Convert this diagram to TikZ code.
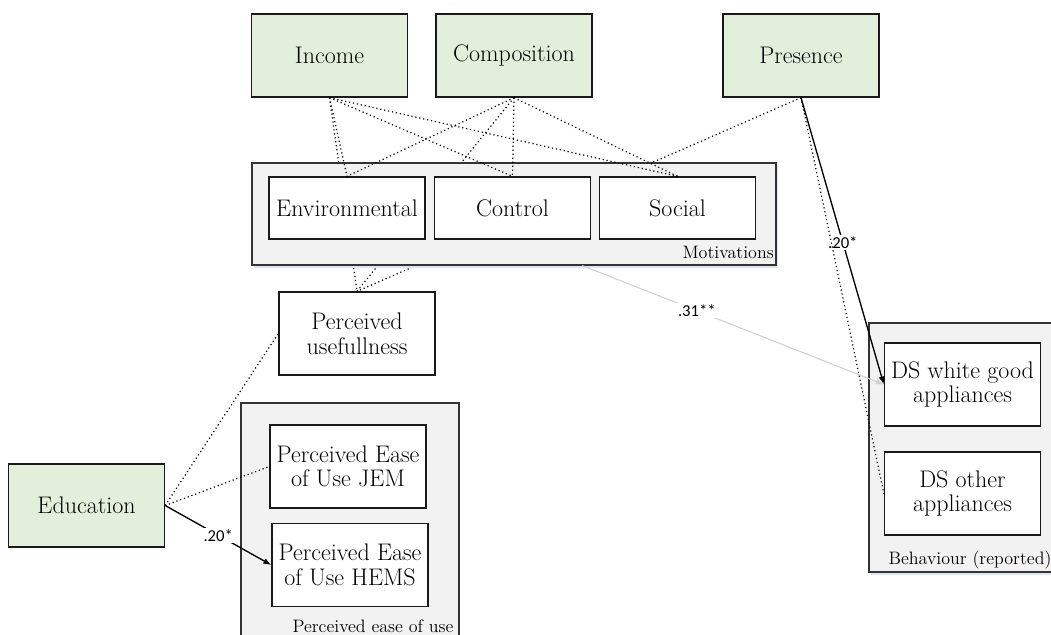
\documentclass[tikz,border=0pt]{standalone}
\usepackage{fontspec}
\newfontfamily\labfont{Carlito}
\usetikzlibrary{arrows.meta,calc,backgrounds,shadows}
\definecolor{boxgreen}{HTML}{E2EFDA}
\definecolor{contgray}{HTML}{F2F2F2}
\definecolor{linegray}{HTML}{D0D0D0}
\definecolor{shadowblue}{HTML}{DCE6F2}
\begin{document}
\begin{tikzpicture}[x=0.75pt,y=-0.75pt,
  box/.style={draw=black!90,line width=1pt,minimum width=117pt,minimum height=62.25pt,inner sep=1pt,align=center,font=\fontsize{18}{18.5}\selectfont},
  greenbox/.style={box,fill=boxgreen},
  whitebox/.style={box,fill=white},
  motbox/.style={box,fill=white,minimum height=46.5pt},
  container/.style={draw=black!80,line width=0.9pt,fill=contgray,inner sep=0pt},
  blueshadow/.style={drop shadow={shadow xshift=1.5pt,shadow yshift=-2.5pt,fill=shadowblue,opacity=1}},
  dotline/.style={line width=0.9pt,dash pattern=on 0.9pt off 2.1pt},
  sigline/.style={line width=1pt,-{Latex[length=6pt,width=4.5pt]}},
  grayline/.style={line width=0.8pt,draw=linegray,-{Latex[length=6pt,width=4.5pt]}},
  siglabel/.style={fill=white,inner sep=1pt,text=black,font=\labfont\fontsize{12.5}{14}\selectfont},
  contlabel/.style={inner sep=0pt,font=\fontsize{13.5}{15}\selectfont}
]
\useasboundingbox (0,0) rectangle (1051,635);

% containers
\node[container,blueshadow,minimum width=393pt,minimum height=76.5pt] (motiv) at (514,214) {};
\node[container,minimum width=163.5pt,minimum height=185.25pt] (peu) at (350,526.5) {};
\node[container,blueshadow,minimum width=141.75pt,minimum height=186.75pt] (beh) at (963.5,447.5) {};

% container labels
\node[contlabel,anchor=east] (motivlab) at (774,252) {Motivations};
\node[contlabel] (peulab) at (373,626) {Perceived ease of use};
\node[contlabel] (behlab) at (970,560) {Behaviour (reported)};

% top boxes
\node[greenbox] (inc) at (329.5,55.5) {Income};
\node[greenbox] (comp) at (514,55.5) {Composition};
\node[greenbox] (pres) at (801,55.5) {Presence};

% motivations
\node[motbox] (env) at (347,208) {Environmental};
\node[motbox] (ctrl) at (512.5,208) {Control};
\node[motbox] (soc) at (677.5,208) {Social};

% others
\node[whitebox] (pu) at (357,333.5) {Perceived\\usefullness};
\node[whitebox] (jem) at (348,466.5) {Perceived Ease\\of Use JEM};
\node[whitebox] (hems) at (350,565) {Perceived Ease\\of Use HEMS};
\node[greenbox] (edu) at (86.5,505.5) {Education};
\node[whitebox] (dsw) at (962.5,384.5) {DS white good\\appliances};
\node[whitebox] (dso) at (962.5,493.5) {DS other\\appliances};

% lines hidden behind the motivations container
\begin{pgfonlayer}{background}
\draw[dotline] (inc.south) -- (pu.north);
\draw[dotline] (comp.south) -- (pu.north);
\draw[dotline] (pres.south) -- (pu.north);
\end{pgfonlayer}

% dotted links to motivations
\draw[dotline] (inc.south) -- (env.north);
\draw[dotline] (inc.south) -- (ctrl.north);
\draw[dotline] (inc.south) -- (soc.north);
\draw[dotline] (comp.south) -- (env.north);
\draw[dotline] (comp.south) -- (ctrl.north);
\draw[dotline] (comp.south) -- (soc.north);

% education
\draw[dotline] (edu.east) -- (pu.west);
\draw[dotline] (edu.east) -- (jem.west);
\draw[sigline] (edu.east) -- node[siglabel,pos=0.5] {.20*} (hems.west);

% motivations to behaviour
\coordinate (mout) at ($(motiv.south west)!0.63!(motiv.south east)$);
\draw[grayline] (mout) -- node[siglabel,pos=0.38] {.31**} (dsw.west);

% presence to behaviour
\draw[sigline] (pres.south) -- node[siglabel,pos=0.505] {.20*} (dsw.west);
\draw[dotline] (pres.south) -- (dso.west);
\end{tikzpicture}
\end{document}
